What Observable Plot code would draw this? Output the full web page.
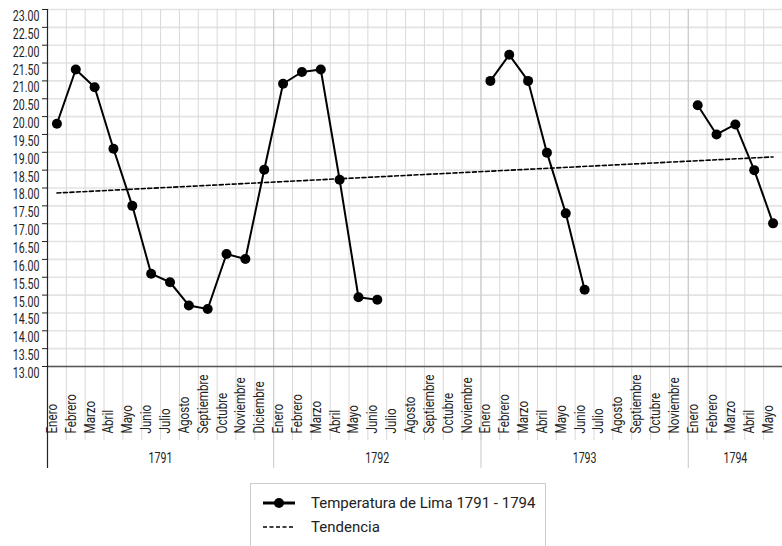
<!DOCTYPE html>
<html><head><meta charset="utf-8">
<script src="https://cdn.jsdelivr.net/npm/d3@7"></script>
<script src="https://cdn.jsdelivr.net/npm/@observablehq/plot@0.6"></script>
<style>
body{margin:0;background:#fff;}
#wrap{position:relative;width:782px;height:546px;overflow:hidden;font-family:Roboto,"Liberation Sans",sans-serif;color:#222;}
#chart{position:absolute;left:0;top:0;}
#legend{position:absolute;left:250px;top:483px;width:294px;height:90px;border:1.5px solid #ccc;background:#fff;}
.lrow{position:absolute;left:0;height:20px;width:294px;}
.lrow svg{position:absolute;left:11px;top:3px;}
.lrow span{position:absolute;left:60px;top:0;line-height:20px;font-size:15px;white-space:nowrap;}
</style></head><body>
<div id="wrap"><div id="chart"></div>
<div id="legend">
  <div class="lrow" style="top:9px"><svg width="34" height="14"><line x1="1" y1="7" x2="33" y2="7" stroke="#000" stroke-width="3"/><circle cx="17" cy="7" r="5" fill="#000"/></svg><span>Temperatura de Lima 1791 - 1794</span></div>
  <div class="lrow" style="top:33px"><svg width="34" height="14"><line x1="1" y1="7" x2="33" y2="7" stroke="#000" stroke-width="1.5" stroke-dasharray="4,2.5"/></svg><span>Tendencia</span></div>
</div>
</div>
<script>
const years = [1791, 1792, 1793, 1794];
const monthsPerYear = [12, 11, 11, 5];
const monthNames = ["Enero","Febrero","Marzo","Abril","Mayo","Junio","Julio","Agosto","Septiembre","Octubre","Noviembre","Diciembre"];
const temperatures = [
  19.80, 21.32, 20.82, 19.10, 17.50, 15.60, 15.36, 14.71, 14.61, 16.15, 16.01, 18.51,
  20.92, 21.25, 21.32, 18.23, 14.94, 14.87, null, null, null, null, null,
  21.00, 21.73, 21.00, 18.99, 17.29, 15.15, null, null, null, null, null,
  20.32, 19.50, 19.78, 18.50, 17.01
];
const trendValues = [17.86, 18.87];
const yTicks = [13, 13.5, 14, 14.5, 15, 15.5, 16, 16.5, 17, 17.5, 18, 18.5, 19, 19.5, 20, 20.5, 21, 21.5, 22, 22.5, 23];

const rows = [];
const yearGroups = [];
years.forEach((yr, i) => {
  const start = rows.length;
  for (let m = 0; m < monthsPerYear[i]; m++) {
    rows.push({idx: rows.length, year: yr, month: monthNames[m], temp: temperatures[rows.length]});
  }
  yearGroups.push({year: yr, start, center: start + monthsPerYear[i] / 2});
});
const cx = r => r.idx + 0.5;
const trendRows = [
  {x: cx(rows[0]), v: trendValues[0]},
  {x: cx(rows[rows.length - 1]), v: trendValues[1]}
];
const boundaries = rows.slice(1).map(r => r.idx);
const yearStarts = yearGroups.slice(1).map(g => g.start);

const FONT = 'Roboto,"Liberation Sans",sans-serif';
const plot = Plot.plot({
  width: 782, height: 478,
  marginTop: 9, marginBottom: 112, marginLeft: 47, marginRight: 0,
  x: {type: "linear", domain: [0, rows.length], axis: null},
  y: {domain: [13, 23], axis: null},
  style: {fontFamily: FONT, fontSize: "13px", color: "#222", background: "#fff", overflow: "visible"},
  marks: [
    Plot.ruleY(yTicks, {stroke: "#e3e3e3", strokeWidth: 1.6}),
    Plot.ruleX(boundaries, {stroke: "#d9d9d9", strokeWidth: 1, insetBottom: -74}),
    Plot.ruleX(yearStarts, {stroke: "#c8c8c8", strokeWidth: 1, insetBottom: -102}),
    Plot.ruleY([13], {stroke: "#555", strokeWidth: 1.6}),
    Plot.ruleX([0], {stroke: "#222", strokeWidth: 1.2, insetBottom: -102}),
    Plot.axisY(yTicks, {tickSize: 5, tickFormat: () => "", stroke: "#222"}),
    Plot.text(yTicks, {y: d => d, frameAnchor: "left", textAnchor: "end", dx: -8, dy: 7, text: d => d.toFixed(2), fill: "#222", fontSize: 14, ariaDescription: "ylabels"}),
    Plot.text(rows, {x: cx, frameAnchor: "bottom", text: "month", rotate: -90, textAnchor: "start", dy: 67, fill: "#222", fontSize: 14.5, ariaDescription: "months"}),
    Plot.text(yearGroups, {x: "center", frameAnchor: "bottom", text: d => String(d.year), dy: 96, fill: "#222", fontSize: 14, ariaDescription: "years"}),
    Plot.line(trendRows, {x: "x", y: "v", stroke: "#000", strokeWidth: 1.6, strokeDasharray: "4,2.5"}),
    Plot.line(rows, {x: cx, y: "temp", stroke: "#000", strokeWidth: 2}),
    Plot.dot(rows.filter(r => r.temp != null), {x: cx, y: "temp", r: 5, fill: "#000", stroke: "none"})
  ]
});
document.getElementById("chart").appendChild(plot);

// condense text glyphs (narrow typeface look)
function condense(sel, f) {
  plot.querySelectorAll(sel).forEach(t => {
    const L = t.getComputedTextLength();
    t.setAttribute("textLength", (L * f).toFixed(2));
    t.setAttribute("lengthAdjust", "spacingAndGlyphs");
  });
}
condense('g[aria-description="ylabels"] text', 0.76);
condense('g[aria-description="years"] text', 0.76);
condense('g[aria-description="months"] text', 0.8);
</script>
</body></html>
